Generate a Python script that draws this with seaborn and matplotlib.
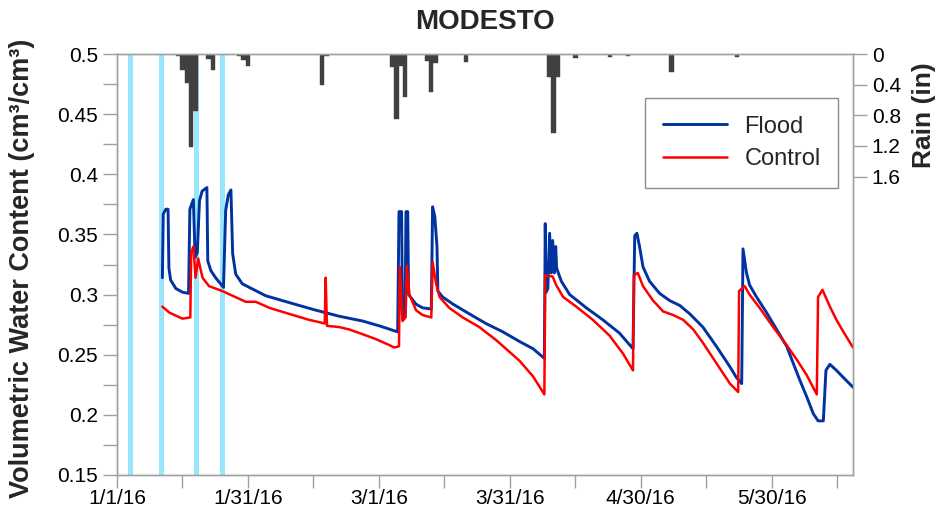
import numpy as np
import pandas as pd
import seaborn as sns
import matplotlib.pyplot as plt
from matplotlib.ticker import MultipleLocator, FixedLocator

# days since 1/1/16
flood_day = [10.4, 10.6, 11.2, 11.7, 11.9, 12.3, 13.5, 15.0, 16.4, 16.7, 17.5, 17.9, 18.4, 18.9,
             19.5, 20.6, 20.8, 21.5, 22.6, 24.4, 24.9, 25.5, 26.1, 26.5, 27.2, 28.7, 30.3, 34.1,
             37.9, 41.7, 45.6, 50.9, 56.3, 60.1, 64.3, 64.6, 65.2, 65.4, 66.0, 66.2, 66.6, 66.8,
             68.5, 70.0, 72.0, 72.3, 72.8, 73.3, 73.5, 74.6, 77.0, 80.7, 84.5, 88.4, 92.2, 95.3,
             97.9, 98.1, 98.3, 98.7, 99.1, 99.5, 99.8, 100.2, 100.5, 100.7, 101.8, 103.7, 107.5,
             111.3, 115.1, 118.2, 118.6, 119.1, 119.7, 120.5, 122.0, 124.3, 126.6, 128.9, 131.2,
             134.2, 137.3, 140.4, 141.9, 143.1, 143.4, 144.2, 144.9, 146.5, 148.8, 151.1, 153.4,
             154.9, 156.4, 158.0, 159.5, 160.6, 161.8, 162.4, 163.3, 164.8, 166.4, 168.6]
flood_vwc = [0.314, 0.367, 0.371, 0.371, 0.322, 0.312, 0.305, 0.302, 0.301, 0.371, 0.379, 0.331,
             0.335, 0.378, 0.386, 0.389, 0.328, 0.320, 0.314, 0.306, 0.370, 0.383, 0.387, 0.334,
             0.317, 0.309, 0.306, 0.299, 0.295, 0.291, 0.287, 0.282, 0.278, 0.274, 0.269, 0.369,
             0.369, 0.280, 0.282, 0.369, 0.369, 0.300, 0.292, 0.289, 0.288, 0.373, 0.365, 0.340,
             0.303, 0.298, 0.292, 0.284, 0.276, 0.269, 0.261, 0.255, 0.247, 0.359, 0.302, 0.305,
             0.351, 0.318, 0.345, 0.318, 0.340, 0.322, 0.311, 0.300, 0.289, 0.279, 0.268, 0.255,
             0.349, 0.351, 0.340, 0.323, 0.311, 0.301, 0.295, 0.291, 0.284, 0.273, 0.257, 0.240,
             0.231, 0.226, 0.338, 0.318, 0.308, 0.298, 0.285, 0.271, 0.257, 0.243, 0.229, 0.215,
             0.201, 0.195, 0.195, 0.237, 0.242, 0.237, 0.231, 0.223]

control_day = [10.4, 12.0, 15.0, 16.8, 17.0, 17.5, 18.0, 18.6, 19.6, 21.1, 24.1, 26.5, 29.5, 31.8,
               34.9, 39.4, 44.0, 47.6, 47.8, 48.1, 50.9, 53.2, 56.3, 59.3, 62.4, 63.5, 64.6, 64.8,
               65.4, 66.1, 66.4, 67.0, 68.5, 70.0, 72.0, 72.3, 73.1, 73.9, 76.1, 79.2, 83.0, 86.9,
               92.2, 95.3, 97.9, 98.1, 99.8, 100.6, 102.2, 105.2, 109.0, 112.8, 115.9, 118.2,
               118.4, 119.3, 120.5, 122.8, 125.1, 127.4, 129.7, 132.0, 134.2, 137.3, 140.4, 142.3,
               142.5, 143.8, 144.9, 147.2, 150.3, 153.4, 155.7, 158.0, 160.3, 160.6, 161.6, 163.3,
               164.8, 166.4, 168.6]
control_vwc = [0.290, 0.285, 0.280, 0.281, 0.335, 0.340, 0.314, 0.330, 0.314, 0.307, 0.303, 0.299,
               0.294, 0.294, 0.289, 0.284, 0.279, 0.276, 0.314, 0.274, 0.273, 0.271, 0.267, 0.263,
               0.258, 0.256, 0.257, 0.323, 0.278, 0.281, 0.324, 0.300, 0.287, 0.283, 0.281, 0.327,
               0.309, 0.298, 0.289, 0.281, 0.273, 0.262, 0.245, 0.232, 0.217, 0.316, 0.315, 0.308,
               0.298, 0.290, 0.279, 0.266, 0.251, 0.237, 0.316, 0.318, 0.307, 0.295, 0.286, 0.283,
               0.279, 0.271, 0.260, 0.243, 0.226, 0.219, 0.303, 0.307, 0.300, 0.289, 0.273, 0.258,
               0.246, 0.233, 0.217, 0.298, 0.304, 0.290, 0.279, 0.269, 0.256]

rain_day = [14, 15, 16, 17, 18, 21, 22, 28, 29, 30, 47, 48, 63, 64, 65, 66, 71, 72, 73, 80,
            99, 100, 101, 105, 113, 117, 127, 142]
rain_in = [0.03, 0.21, 0.38, 1.22, 0.75, 0.06, 0.21, 0.03, 0.08, 0.15, 0.40, 0.02, 0.17, 0.85,
           0.16, 0.56, 0.09, 0.49, 0.12, 0.11, 0.30, 1.03, 0.30, 0.05, 0.04, 0.03, 0.23, 0.04]

flood_event_day = [3, 10, 18, 24]

date_ticks = [0, 30, 60, 90, 120, 150]
date_labels = ['1/1/16', '1/31/16', '3/1/16', '3/31/16', '4/30/16', '5/30/16']
rain_ticks = [0, 0.4, 0.8, 1.2, 1.6]
rain_labels = ['0', '0.4', '0.8', '1.2', '1.6']

df = pd.concat([
    pd.DataFrame({'day': flood_day, 'vwc': flood_vwc, 'series': 'Flood'}),
    pd.DataFrame({'day': control_day, 'vwc': control_vwc, 'series': 'Control'}),
])

sns.set_theme(style='white')
plt.rcParams['font.family'] = ['Liberation Sans', 'DejaVu Sans']

fig, ax = plt.subplots(figsize=(9.41, 5.30), dpi=100)
fig.subplots_adjust(left=0.1243, right=0.9065, top=0.898, bottom=0.1038)
ax2 = ax.twinx()
ax.set_zorder(ax2.get_zorder() + 1)
ax.patch.set_visible(False)

# rain + flood events on secondary axis
for d in flood_event_day:
    ax2.axvline(d, color='#9be6ff', lw=3.6, zorder=1)
ax2.bar(rain_day, rain_in, width=1.0, color='#404040', edgecolor='#404040', linewidth=0.3, zorder=2)
ax2.set_ylim(5.5, 0)
ax2.set_yticks(rain_ticks)
ax2.set_yticklabels(rain_labels)
ax2.set_ylabel('Rain (in)', fontsize=19, fontweight='bold')
ax2.yaxis.set_label_coords(1.080, 0.855)

sns.lineplot(data=df, x='day', y='vwc', hue='series', palette={'Flood': '#0033a0', 'Control': '#ff0000'},
             estimator=None, sort=False, ax=ax, lw=1.8)
for line in ax.get_lines():
    if line.get_color() == '#0033a0':
        line.set_linewidth(2.1)

ax.set_xlim(0, 168.6)
ax.set_ylim(0.15, 0.5)
ax.xaxis.set_major_locator(FixedLocator(date_ticks))
ax.set_xticklabels(date_labels)
ax.xaxis.set_minor_locator(MultipleLocator(15))
ax.yaxis.set_major_locator(MultipleLocator(0.05))
ax.yaxis.set_minor_locator(MultipleLocator(0.025))
ax.set_yticklabels([f'{v:g}' for v in ax.get_yticks()])
ax.set_xlabel('')
ax.set_ylabel('Volumetric Water Content (cm³/cm³)', fontsize=19.5, fontweight='bold')
ax.yaxis.set_label_coords(-0.111, 0.49)
ax.set_title('MODESTO', fontsize=20, fontweight='bold', pad=18)

grey = '#a0a0a0'
for a in (ax, ax2):
    for s in a.spines.values():
        s.set_color(grey)
        s.set_linewidth(1.0)
ax.tick_params(axis='both', which='both', direction='out', length=9, width=1, color=grey,
               labelsize=15, labelcolor='black', bottom=True, left=True)
ax.tick_params(axis='x', pad=1)
ax.tick_params(axis='y', which='both', length=10)
ax2.tick_params(axis='y', direction='out', length=10, width=1, color=grey, labelsize=15,
                labelcolor='black', right=True)

handles, labels = ax.get_legend_handles_labels()
leg = ax.legend(handles, labels, loc='upper right', bbox_to_anchor=(0.98, 0.8955), fontsize=17,
                frameon=True, fancybox=False, edgecolor='#8c8c8c', framealpha=1,
                handlelength=2.7, borderpad=0.75, labelspacing=0.45, handletextpad=0.75,
                borderaxespad=0)
leg.get_frame().set_linewidth(1.0)

fig.savefig('out.png', dpi=100)
